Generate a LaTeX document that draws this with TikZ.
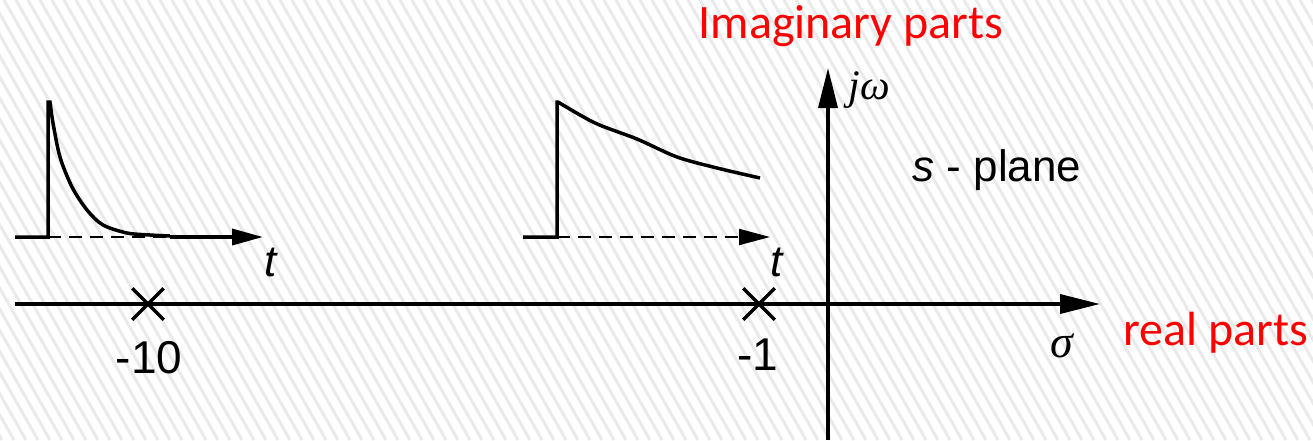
\documentclass[tikz,border=0pt]{standalone}
\usepackage{fontspec}
\setmainfont{Liberation Sans}
\newfontfamily\calibrifont{Carlito}
\newfontfamily\timesfont{Liberation Serif}
\usetikzlibrary{arrows.meta, positioning, shapes.misc}
\definecolor{partred}{RGB}{255, 0, 0}
\definecolor{hatchgray}{RGB}{234, 234, 234}

\begin{document}
\begin{tikzpicture}[
  x=0.5pt, y=-0.5pt,
  axis/.style={line width=1.75pt, -{Triangle[length=20pt, width=9.5pt]}},
  curve/.style={line width=1.75pt, line join=miter},
  tarrow/.style={line width=1.75pt, -{Triangle[length=15.5pt, width=8pt]}},
  guide/.style={line width=1pt, dash pattern=on 6.5pt off 4pt},
  polemark/.style={draw, cross out, line width=1.75pt, minimum size=14pt, inner sep=0pt},
  hatch/.style={draw=hatchgray, line width=1.5pt},
  redlabel/.style={text=partred, font=\calibrifont\fontsize{24}{28}\selectfont, inner sep=0pt},
  numlabel/.style={font=\fontsize{23}{27}\selectfont, inner sep=0pt},
  varlabel/.style={font=\timesfont\itshape\fontsize{21}{25}\selectfont, inner sep=0pt},
  tlabel/.style={font=\itshape\fontsize{22}{26}\selectfont, inner sep=0pt}
]

  \useasboundingbox (0,0) rectangle (1313,440);

  % Sfondo a righe
  \begin{scope}
    \clip (0,0) rectangle (1313,440);
    \foreach \i in {-260,-248,...,1320}
      \draw[hatch] (\i,0) -- ++(250,440);
  \end{scope}

  % Assi del piano s
  \coordinate (west) at (15,304);
  \coordinate (east) at (1100,304);
  \coordinate (south) at (828,440);
  \coordinate (north) at (828,68);
  \draw[axis] (west) -- (east);
  \draw[axis] (south) -- (north);

  \node[varlabel] (jw) at (869,90) {jω};
  \node[varlabel, font=\timesfont\itshape\fontsize{23}{27}\selectfont] (sigma) at (1062,346) {σ};
  \node[font=\fontsize{22}{26}\selectfont, inner sep=0pt] (plane) at (997,170) {{\itshape s} - plane};
  \node[redlabel] (imag) at (851,26) {Imaginary parts};
  \node[redlabel] (real) at (1216,333) {real parts};

  % Poli
  \node[polemark] (p10) at (148,304) {};
  \node[polemark] (p1) at (759,304) {};
  \node[numlabel] (l10) at (149,358) {-10};
  \node[numlabel] (l1) at (758,355) {-1};

  % Risposta veloce
  \coordinate (fast0) at (15,237);
  \coordinate (fastbase) at (48,237);
  \coordinate (fastpeak) at (48,102);
  \coordinate (fastend) at (170,237);
  \coordinate (fasttip) at (263,237);
  \draw[curve] (fast0) -- (fastbase) -- (fastpeak) -- plot[smooth] coordinates {(50,102) (53,123) (60,157) (72,187) (87,210) (103,225) (127,233) (150,235) (170,236)};
  \draw[guide] (fastbase) -- (fastend);
  \draw[tarrow] (fastend) -- (fasttip);
  \node[tlabel] (tfast) at (271,262) {t};

  % Risposta lenta
  \coordinate (slow0) at (523,237);
  \coordinate (slowbase) at (557,237);
  \coordinate (slowpeak) at (557,102);
  \coordinate (slowtip) at (770,237);
  \draw[curve] (slow0) -- (slowbase) -- (slowpeak) -- plot[smooth] coordinates {(558,102) (595,123) (637,139) (677,157) (717,168) (760,178)};
  \draw[guide, -{Triangle[length=15.5pt, width=8pt]}] (slowbase) -- (slowtip);
  \node[tlabel] (tslow) at (777,262) {t};

\end{tikzpicture}
\end{document}
